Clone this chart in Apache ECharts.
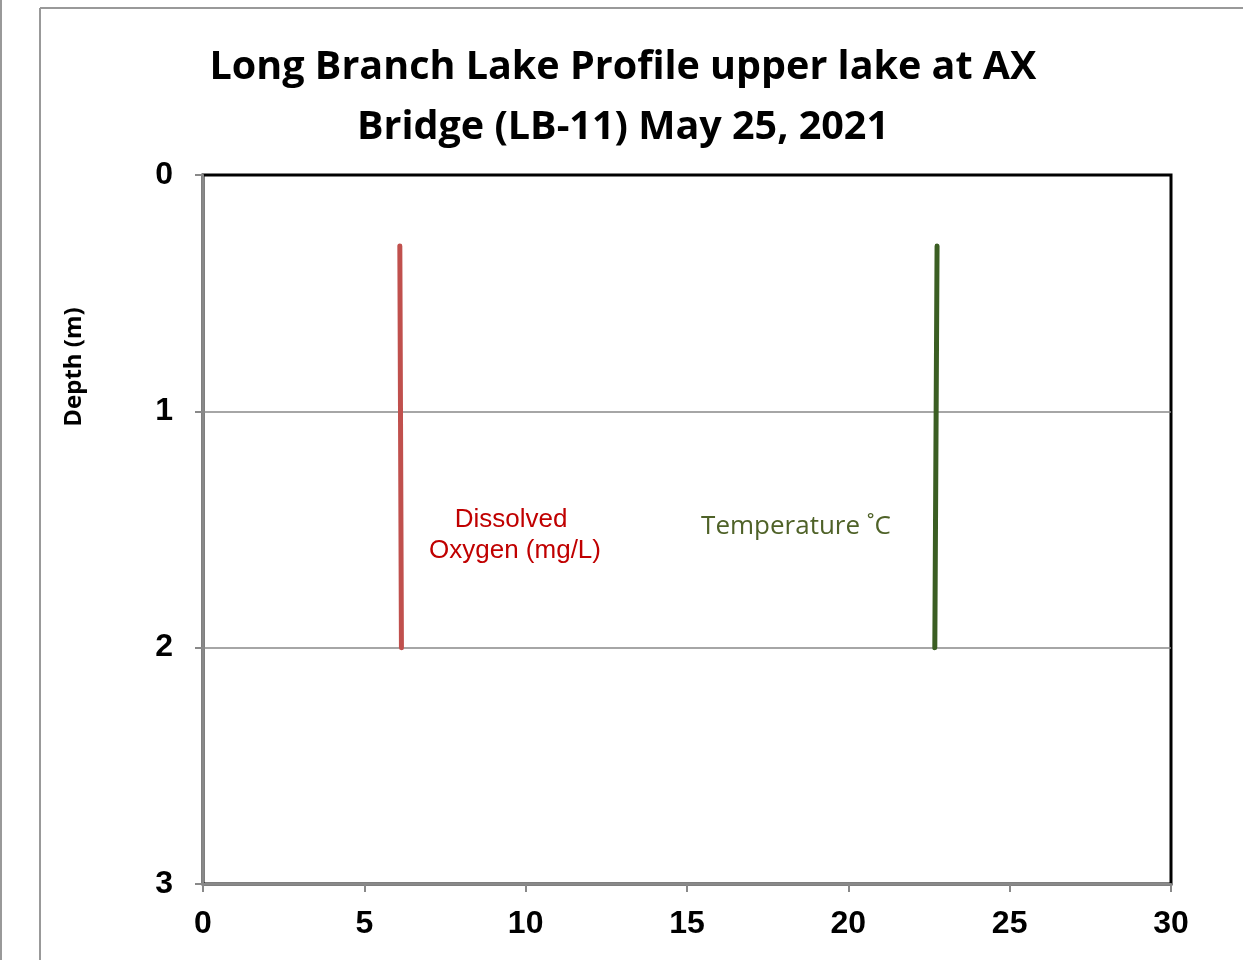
<!DOCTYPE html>
<html lang="en">
<head>
  <meta charset="UTF-8" />
  <title>Long Branch Lake Profile</title>
  <script src="https://cdn.jsdelivr.net/npm/echarts@6/dist/echarts.min.js"></script>
  <style>
    html, body { margin: 0; padding: 0; background: #fff; }
    #chart { width: 1243px; height: 960px; }
  </style>
</head>
<body>
  <div id="chart"></div>
  <script>
    // depth in metres
    var depths = [0.3, 2.0];
    var oxygen = [6.1, 6.15];
    var temperature = [22.75, 22.68];
    var xTicks = [0, 5, 10, 15, 20, 25, 30];
    var yTicks = [0, 1, 2, 3];

    function pairs(xs, ys) {
      return xs.map(function (x, i) { return [x, ys[i]]; });
    }

    var chart = echarts.init(document.getElementById("chart"));
    var labelFont = { fontFamily: "Liberation Sans, Arial, sans-serif", fontWeight: "bold", fontSize: 32, color: "#000" };

    chart.setOption({
      animation: false,
      title: {
        text: "Long Branch Lake Profile upper lake at AX\nBridge (LB-11) May 25, 2021",
        left: 618,
        top: 33,
        textAlign: "center",
        textStyle: { fontFamily: "Open Sans, sans-serif", fontWeight: "bold", fontSize: 39.5, lineHeight: 60, color: "#000" }
      },
      grid: {
        left: 203, right: 72, top: 175, bottom: 76,
        show: true, borderColor: "#000", borderWidth: 3, backgroundColor: "#fff"
      },
      xAxis: {
        type: "value",
        min: xTicks[0], max: xTicks[xTicks.length - 1], interval: 5,
        axisLine: { show: true, onZero: false, lineStyle: { color: "#898989", width: 2 } },
        axisTick: { show: true, length: 8, lineStyle: { color: "#898989", width: 2 } },
        axisLabel: Object.assign({ margin: 24 }, labelFont),
        splitLine: { show: false }
      },
      yAxis: {
        type: "value",
        inverse: true,
        min: yTicks[0], max: yTicks[yTicks.length - 1], interval: 1,
        axisLine: { show: true, onZero: false, lineStyle: { color: "#898989", width: 2 } },
        axisTick: { show: true, length: 8, lineStyle: { color: "#898989", width: 2 } },
        axisLabel: Object.assign({ margin: 30 }, labelFont),
        splitLine: { show: true, showMinLine: false, showMaxLine: false, lineStyle: { color: "#898989", width: 1.5 } }
      },
      series: [
        {
          name: "Dissolved Oxygen (mg/L)",
          type: "line",
          data: pairs(oxygen, depths),
          symbol: "none",
          lineStyle: { color: "#c0504d", width: 5, cap: "round" }
        },
        {
          name: "Temperature",
          type: "line",
          data: pairs(temperature, depths),
          symbol: "none",
          lineStyle: { color: "#3b5e23", width: 5, cap: "round" }
        }
      ],
      graphic: [
        { type: "line", shape: { x1: 1, y1: 0, x2: 1, y2: 960 }, style: { stroke: "#999", lineWidth: 2 } },
        { type: "line", shape: { x1: 40, y1: 8, x2: 1243, y2: 8 }, style: { stroke: "#999", lineWidth: 2 } },
        { type: "line", shape: { x1: 40, y1: 8, x2: 40, y2: 960 }, style: { stroke: "#999", lineWidth: 2 } },
        {
          type: "text", x: 74, y: 367, rotation: Math.PI / 2,
          style: {
            text: "Depth (m)", align: "center", verticalAlign: "middle",
            font: "bold 24px Open Sans, sans-serif", fill: "#000"
          }
        },
        {
          type: "text", x: 511, y: 520,
          style: {
            text: "Dissolved", align: "center", verticalAlign: "middle",
            font: "26px Liberation Sans, Arial, sans-serif", fill: "#c00000"
          }
        },
        {
          type: "text", x: 515, y: 551,
          style: {
            text: "Oxygen (mg/L)", align: "center", verticalAlign: "middle",
            font: "26px Liberation Sans, Arial, sans-serif", fill: "#c00000"
          }
        },
        {
          type: "text", x: 796, y: 527,
          style: {
            text: "Temperature \u02daC", align: "center", verticalAlign: "middle",
            font: "26px Open Sans, sans-serif", fill: "#4f6228"
          }
        }
      ]
    });
  </script>
</body>
</html>
